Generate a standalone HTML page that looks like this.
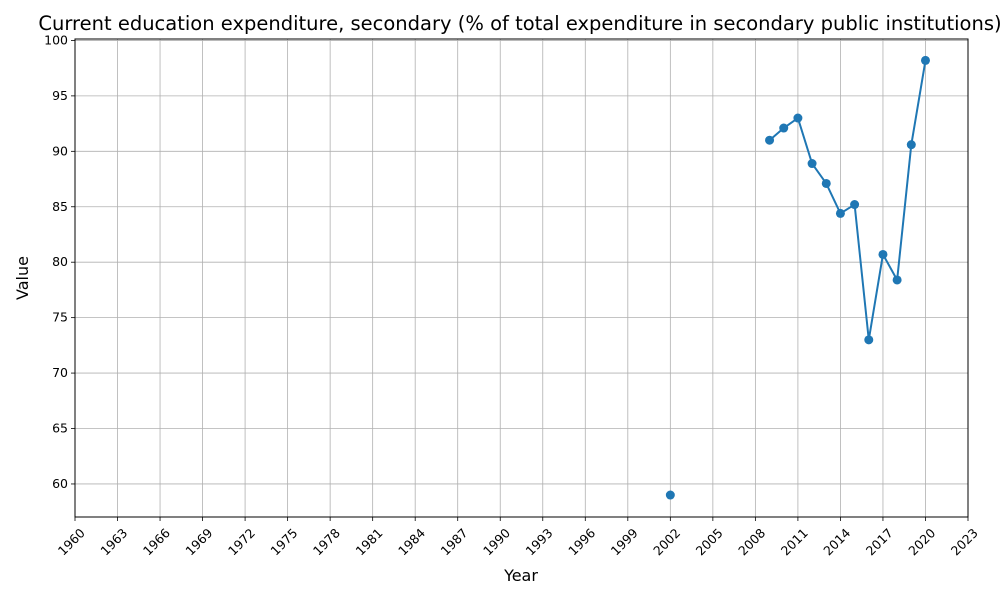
<!DOCTYPE html>
<html><head><meta charset="utf-8"><style>
body{margin:0;background:#fff;font-family:"Liberation Sans","DejaVu Sans",sans-serif}
svg text{font-family:"DejaVu Sans","Liberation Sans",sans-serif}
</style></head><body>
<svg id="chart" width="1000" height="600" xmlns="http://www.w3.org/2000/svg"></svg>
<script>
const years = [2002, 2009, 2010, 2011, 2012, 2013, 2014, 2015, 2016, 2017, 2018, 2019, 2020];
const values = [59.0, 91.0, 92.1, 93.0, 88.9, 87.1, 84.4, 85.2, 73.0, 80.7, 78.4, 90.6, 98.2];
const xTicks = [1960,1963,1966,1969,1972,1975,1978,1981,1984,1987,1990,1993,1996,1999,2002,2005,2008,2011,2014,2017,2020,2023];
const yTicks = [60,65,70,75,80,85,90,95,100];

const L=75,R=968,T=39,B=517,xMin=1960,xMax=2023,yMin=57.02,yMax=100.13;
const sx=v=>L+(v-xMin)/(xMax-xMin)*(R-L);
const sy=v=>B-(v-yMin)/(yMax-yMin)*(B-T);
const svg=document.getElementById('chart');
const NS='http://www.w3.org/2000/svg';
function mk(tag,attrs,parent){const e=document.createElementNS(NS,tag);for(const k in attrs)e.setAttribute(k,attrs[k]);(parent||svg).appendChild(e);return e;}

const grid=mk('g',{});


xTicks.forEach(t=>{const x=sx(t);
 mk('line',{x1:x,x2:x,y1:T,y2:B,stroke:'#b0b0b0','stroke-width':0.8},grid);
 mk('line',{x1:x,x2:x,y1:B,y2:B+4,stroke:'#000','stroke-width':0.8},grid);
 const tx=mk('text',{x:0,y:0,'font-size':12.5,'text-anchor':'end',transform:`translate(${x+4},${B+10}) rotate(-45)`,'dominant-baseline':'hanging'});
 tx.textContent=t;
 
 
});
yTicks.forEach(t=>{const y=sy(t);
 mk('line',{x1:L,x2:R,y1:y,y2:y,stroke:'#b0b0b0','stroke-width':0.8},grid);
 mk('line',{x1:L-4,x2:L,y1:y,y2:y,stroke:'#000','stroke-width':0.8},grid);
 const tx=mk('text',{x:L-7,y:y+4,'font-size':12.5,'text-anchor':'end'});
 tx.textContent=t;
 
 
});
const frame=mk('rect',{x:L,y:T,width:R-L,height:B-T,fill:'none',stroke:'#000','stroke-width':1});



let d='';
for(let i=0;i<years.length;i++){
 const cont=i>0&&years[i]-years[i-1]===1;
 d+=(cont?'L':'M')+sx(years[i])+','+sy(values[i]);
}
const line=mk('path',{d:d,fill:'none',stroke:'#1f77b4','stroke-width':2});


years.forEach((yr,i)=>{
 const c=mk('circle',{cx:sx(yr),cy:sy(values[i]),r:4.5,fill:'#1f77b4'});
 
 
});

const title=mk('text',{x:520,y:30,'font-size':19.5,'text-anchor':'middle'});
title.textContent='Current education expenditure, secondary (% of total expenditure in secondary public institutions)';


const xl=mk('text',{x:521,y:581,'font-size':16,'text-anchor':'middle'});
xl.textContent='Year';


const yl=mk('text',{x:0,y:0,'font-size':16,'text-anchor':'middle',transform:'translate(28,278) rotate(-90)'});
yl.textContent='Value';


</script>
</body></html>
